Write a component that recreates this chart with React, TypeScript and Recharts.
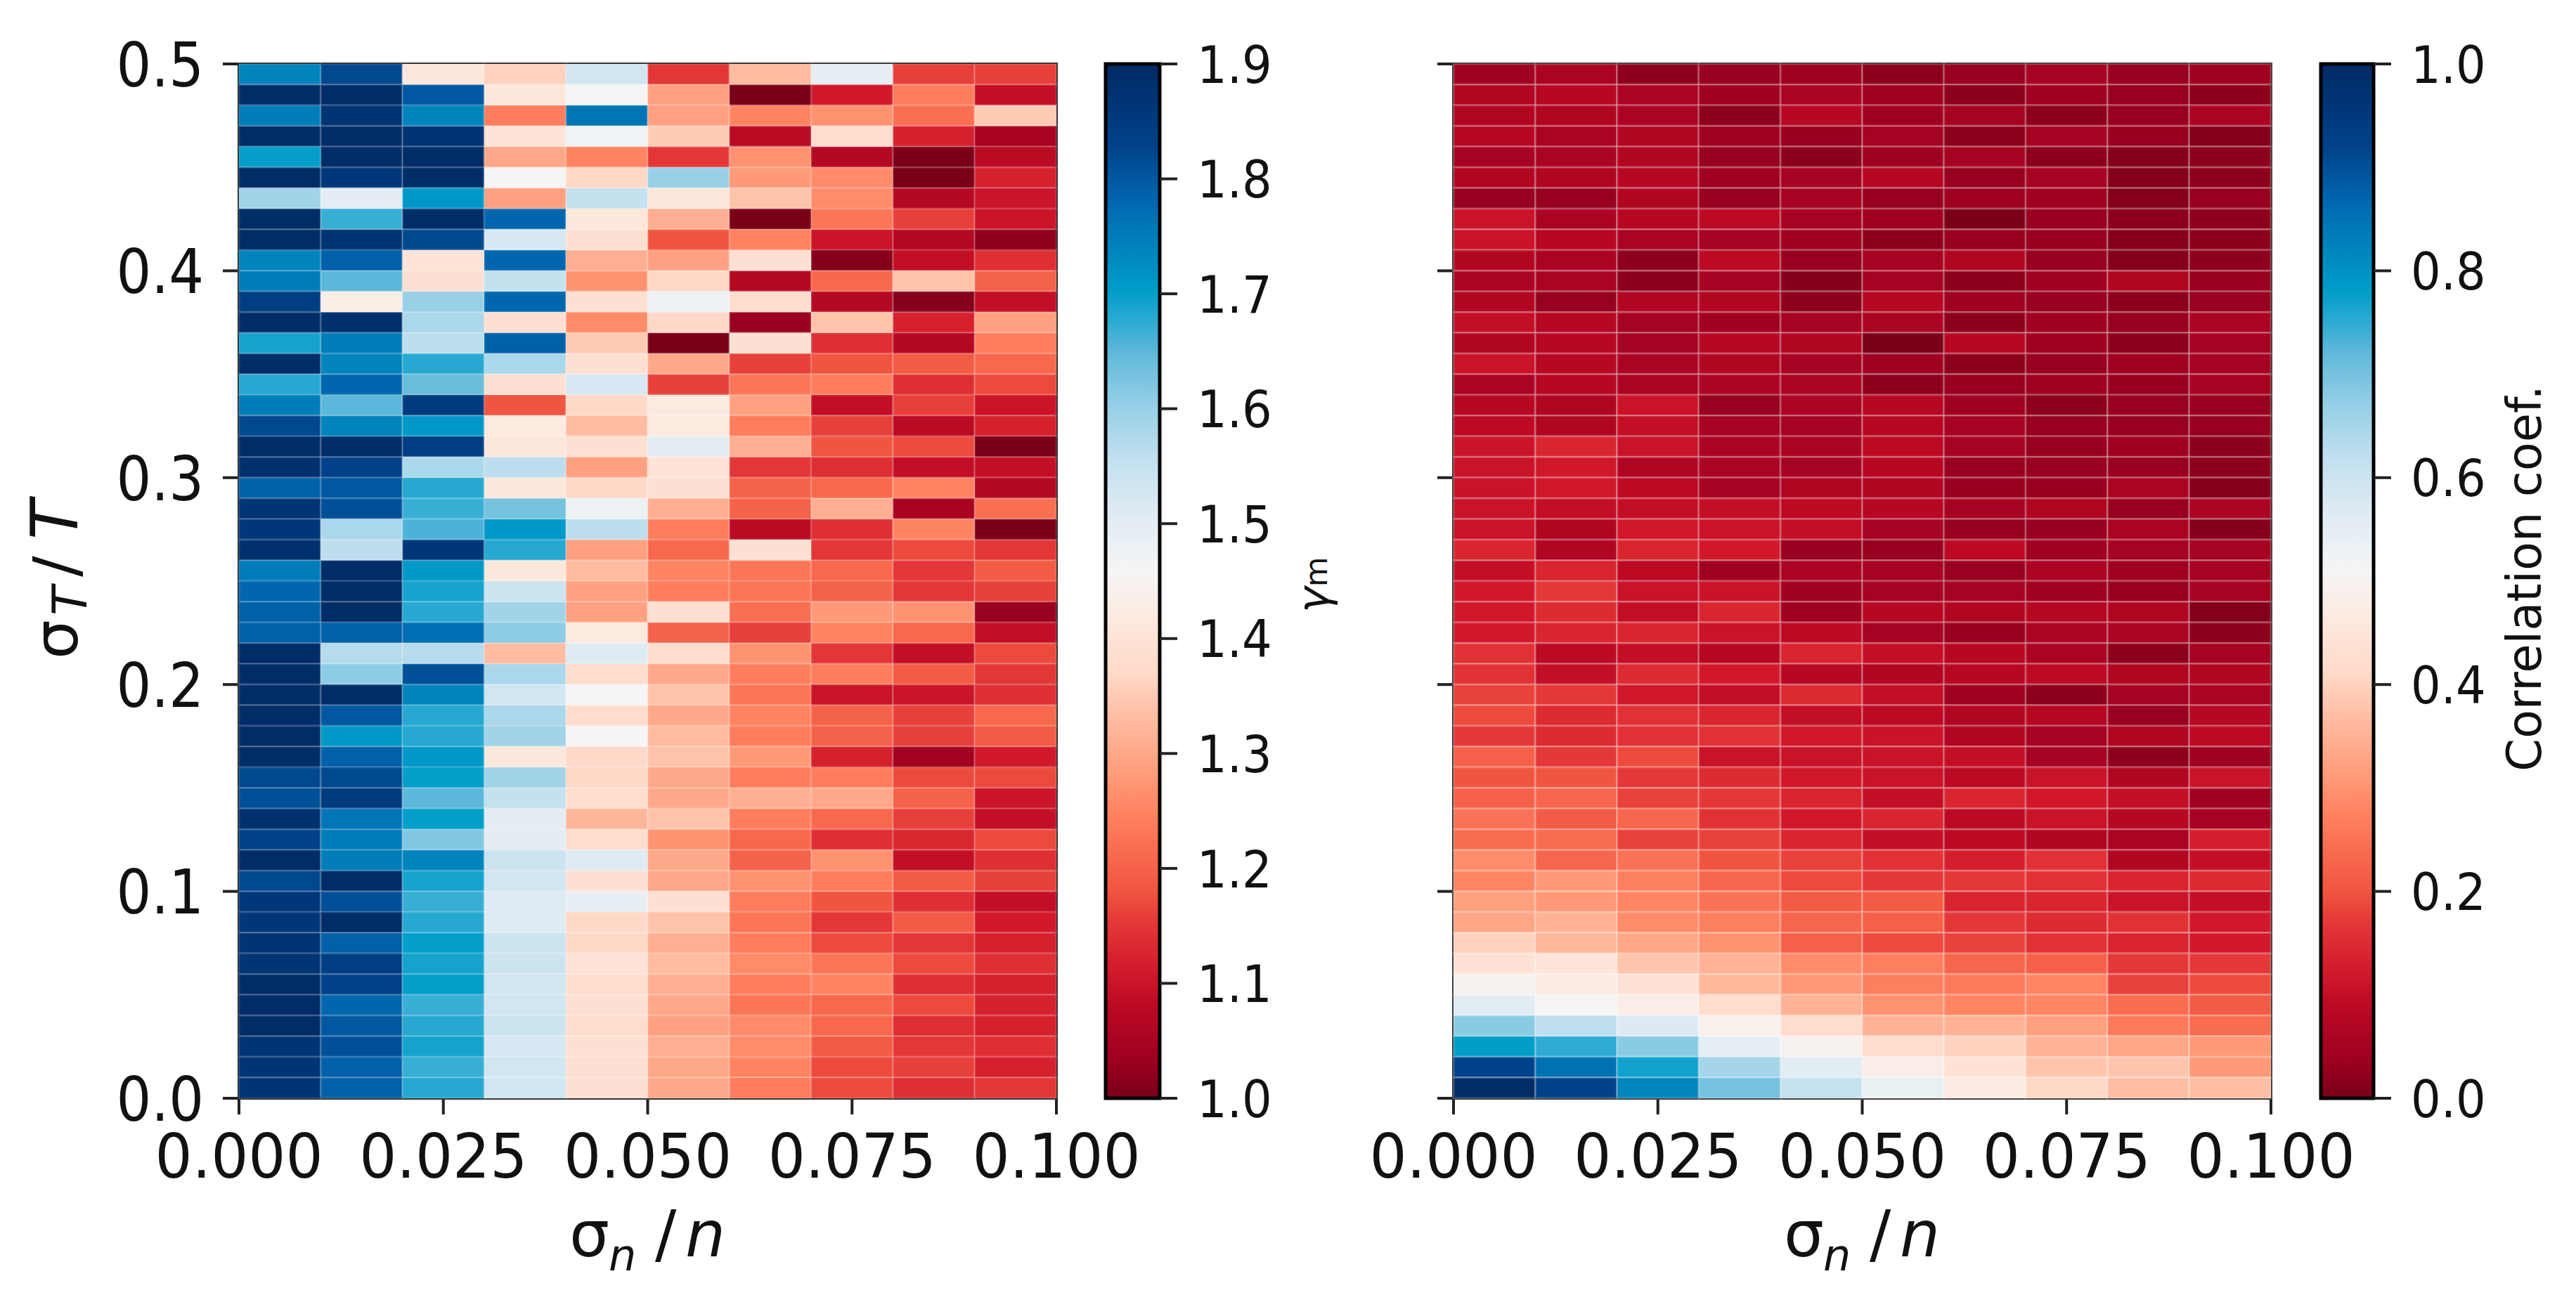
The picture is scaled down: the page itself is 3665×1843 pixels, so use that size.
import { Bar, BarChart, ReferenceArea, Scatter, ScatterChart, XAxis, YAxis } from "recharts";

const FONT = "'DejaVu Sans', sans-serif";
const INK = "#111";

// cell centres
const sigmaN = [0.005, 0.015, 0.025, 0.035, 0.045, 0.055, 0.065, 0.075, 0.085, 0.095];
const sigmaT = [
  0.495, 0.485, 0.475, 0.465, 0.455, 0.445, 0.435, 0.425, 0.415, 0.405,
  0.395, 0.385, 0.375, 0.365, 0.355, 0.345, 0.335, 0.325, 0.315, 0.305,
  0.295, 0.285, 0.275, 0.265, 0.255, 0.245, 0.235, 0.225, 0.215, 0.205,
  0.195, 0.185, 0.175, 0.165, 0.155, 0.145, 0.135, 0.125, 0.115, 0.105,
  0.095, 0.085, 0.075, 0.065, 0.055, 0.045, 0.035, 0.025, 0.015, 0.005,
];

const xTicks = [0, 0.025, 0.05, 0.075, 0.1];
const yTicks = [0, 0.1, 0.2, 0.3, 0.4, 0.5];
const gammaTicks = [1.0, 1.1, 1.2, 1.3, 1.4, 1.5, 1.6, 1.7, 1.8, 1.9];
const corrTicks = [0, 0.2, 0.4, 0.6, 0.8, 1.0];

// top row first
const gammaRows = [
  [1.74, 1.82, 1.41, 1.36, 1.53, 1.15, 1.33, 1.49, 1.16, 1.16],
  [1.89, 1.89, 1.80, 1.41, 1.46, 1.29, 1.00, 1.11, 1.24, 1.09],
  [1.75, 1.87, 1.74, 1.24, 1.76, 1.29, 1.25, 1.27, 1.22, 1.35],
  [1.89, 1.89, 1.87, 1.40, 1.47, 1.35, 1.08, 1.38, 1.12, 1.05],
  [1.70, 1.89, 1.89, 1.30, 1.25, 1.15, 1.27, 1.07, 1.00, 1.08],
  [1.89, 1.86, 1.89, 1.46, 1.37, 1.60, 1.28, 1.26, 1.00, 1.12],
  [1.59, 1.50, 1.71, 1.29, 1.55, 1.41, 1.34, 1.26, 1.07, 1.10],
  [1.89, 1.67, 1.89, 1.78, 1.41, 1.31, 1.00, 1.23, 1.16, 1.10],
  [1.89, 1.87, 1.82, 1.52, 1.39, 1.18, 1.25, 1.10, 1.07, 1.02],
  [1.74, 1.79, 1.40, 1.78, 1.31, 1.29, 1.39, 1.01, 1.09, 1.14],
  [1.75, 1.65, 1.39, 1.55, 1.27, 1.37, 1.07, 1.21, 1.34, 1.20],
  [1.84, 1.43, 1.60, 1.78, 1.39, 1.48, 1.38, 1.07, 1.01, 1.09],
  [1.89, 1.88, 1.58, 1.39, 1.26, 1.37, 1.03, 1.34, 1.12, 1.29],
  [1.69, 1.75, 1.56, 1.79, 1.35, 1.00, 1.39, 1.14, 1.07, 1.24],
  [1.89, 1.74, 1.68, 1.58, 1.39, 1.30, 1.16, 1.18, 1.19, 1.21],
  [1.68, 1.78, 1.64, 1.39, 1.52, 1.16, 1.23, 1.24, 1.14, 1.17],
  [1.75, 1.65, 1.85, 1.18, 1.37, 1.42, 1.29, 1.09, 1.16, 1.10],
  [1.82, 1.74, 1.71, 1.42, 1.33, 1.42, 1.24, 1.16, 1.08, 1.12],
  [1.89, 1.89, 1.84, 1.41, 1.39, 1.50, 1.31, 1.18, 1.17, 1.00],
  [1.88, 1.83, 1.58, 1.56, 1.29, 1.40, 1.15, 1.14, 1.09, 1.09],
  [1.79, 1.80, 1.68, 1.41, 1.37, 1.39, 1.20, 1.21, 1.25, 1.07],
  [1.87, 1.81, 1.67, 1.63, 1.48, 1.31, 1.20, 1.31, 1.05, 1.22],
  [1.86, 1.58, 1.66, 1.71, 1.56, 1.24, 1.08, 1.14, 1.25, 1.00],
  [1.88, 1.56, 1.86, 1.68, 1.29, 1.21, 1.39, 1.15, 1.17, 1.15],
  [1.75, 1.89, 1.71, 1.41, 1.33, 1.25, 1.23, 1.21, 1.15, 1.19],
  [1.78, 1.89, 1.69, 1.54, 1.29, 1.24, 1.23, 1.20, 1.15, 1.16],
  [1.79, 1.89, 1.68, 1.59, 1.29, 1.39, 1.22, 1.28, 1.27, 1.03],
  [1.79, 1.79, 1.77, 1.61, 1.42, 1.20, 1.16, 1.25, 1.21, 1.09],
  [1.89, 1.57, 1.57, 1.33, 1.51, 1.38, 1.27, 1.15, 1.09, 1.17],
  [1.89, 1.61, 1.81, 1.58, 1.38, 1.30, 1.24, 1.24, 1.19, 1.15],
  [1.89, 1.89, 1.74, 1.53, 1.46, 1.34, 1.23, 1.10, 1.10, 1.14],
  [1.89, 1.80, 1.68, 1.58, 1.38, 1.30, 1.25, 1.20, 1.16, 1.21],
  [1.89, 1.71, 1.68, 1.59, 1.46, 1.33, 1.24, 1.20, 1.16, 1.19],
  [1.89, 1.79, 1.71, 1.41, 1.37, 1.34, 1.28, 1.12, 1.04, 1.11],
  [1.82, 1.82, 1.70, 1.59, 1.37, 1.30, 1.24, 1.24, 1.17, 1.17],
  [1.81, 1.85, 1.65, 1.55, 1.38, 1.30, 1.31, 1.30, 1.20, 1.10],
  [1.88, 1.76, 1.70, 1.50, 1.32, 1.34, 1.24, 1.21, 1.16, 1.09],
  [1.83, 1.75, 1.62, 1.50, 1.38, 1.27, 1.21, 1.14, 1.13, 1.17],
  [1.89, 1.75, 1.74, 1.54, 1.51, 1.30, 1.20, 1.27, 1.09, 1.14],
  [1.82, 1.89, 1.69, 1.53, 1.39, 1.30, 1.27, 1.24, 1.19, 1.16],
  [1.86, 1.81, 1.67, 1.51, 1.49, 1.39, 1.24, 1.18, 1.14, 1.09],
  [1.86, 1.89, 1.68, 1.51, 1.37, 1.34, 1.23, 1.15, 1.19, 1.11],
  [1.87, 1.79, 1.70, 1.54, 1.37, 1.31, 1.24, 1.17, 1.15, 1.12],
  [1.87, 1.84, 1.69, 1.54, 1.40, 1.33, 1.26, 1.23, 1.17, 1.14],
  [1.89, 1.83, 1.70, 1.53, 1.38, 1.31, 1.24, 1.25, 1.14, 1.12],
  [1.89, 1.78, 1.67, 1.53, 1.39, 1.30, 1.23, 1.21, 1.17, 1.12],
  [1.89, 1.80, 1.68, 1.54, 1.38, 1.29, 1.26, 1.21, 1.14, 1.12],
  [1.87, 1.81, 1.69, 1.52, 1.39, 1.31, 1.26, 1.19, 1.15, 1.14],
  [1.87, 1.79, 1.67, 1.53, 1.39, 1.30, 1.25, 1.17, 1.16, 1.12],
  [1.87, 1.79, 1.68, 1.53, 1.39, 1.30, 1.24, 1.17, 1.14, 1.15],
];

const corrRows = [
  [0.04, 0.06, 0.02, 0.03, 0.04, 0.02, 0.03, 0.05, 0.03, 0.04],
  [0.07, 0.08, 0.06, 0.04, 0.06, 0.04, 0.02, 0.04, 0.03, 0.02],
  [0.07, 0.07, 0.06, 0.02, 0.08, 0.04, 0.05, 0.02, 0.03, 0.06],
  [0.08, 0.06, 0.07, 0.04, 0.03, 0.05, 0.02, 0.05, 0.03, 0.01],
  [0.05, 0.06, 0.07, 0.03, 0.02, 0.04, 0.05, 0.02, 0.01, 0.02],
  [0.07, 0.07, 0.08, 0.04, 0.05, 0.08, 0.03, 0.05, 0.01, 0.02],
  [0.03, 0.03, 0.07, 0.03, 0.05, 0.03, 0.04, 0.04, 0.01, 0.03],
  [0.11, 0.06, 0.08, 0.09, 0.05, 0.04, 0.00, 0.03, 0.02, 0.02],
  [0.11, 0.08, 0.06, 0.05, 0.04, 0.02, 0.03, 0.03, 0.01, 0.02],
  [0.07, 0.06, 0.02, 0.09, 0.03, 0.05, 0.07, 0.03, 0.01, 0.02],
  [0.06, 0.06, 0.02, 0.05, 0.01, 0.05, 0.02, 0.04, 0.07, 0.03],
  [0.07, 0.03, 0.07, 0.07, 0.02, 0.08, 0.04, 0.03, 0.02, 0.03],
  [0.10, 0.08, 0.05, 0.04, 0.05, 0.06, 0.02, 0.04, 0.03, 0.06],
  [0.07, 0.08, 0.05, 0.08, 0.07, 0.00, 0.08, 0.04, 0.02, 0.05],
  [0.11, 0.08, 0.06, 0.07, 0.05, 0.04, 0.02, 0.03, 0.04, 0.05],
  [0.06, 0.08, 0.06, 0.06, 0.06, 0.02, 0.03, 0.04, 0.03, 0.05],
  [0.08, 0.07, 0.11, 0.03, 0.06, 0.08, 0.04, 0.02, 0.03, 0.03],
  [0.09, 0.07, 0.10, 0.05, 0.05, 0.08, 0.05, 0.03, 0.03, 0.03],
  [0.11, 0.14, 0.11, 0.06, 0.06, 0.09, 0.05, 0.03, 0.04, 0.02],
  [0.11, 0.12, 0.07, 0.06, 0.05, 0.08, 0.03, 0.03, 0.03, 0.02],
  [0.11, 0.12, 0.09, 0.05, 0.07, 0.07, 0.03, 0.03, 0.06, 0.01],
  [0.11, 0.10, 0.10, 0.10, 0.09, 0.08, 0.05, 0.07, 0.03, 0.06],
  [0.11, 0.07, 0.12, 0.11, 0.10, 0.05, 0.03, 0.03, 0.06, 0.01],
  [0.14, 0.07, 0.14, 0.12, 0.03, 0.03, 0.09, 0.04, 0.05, 0.05],
  [0.10, 0.14, 0.09, 0.04, 0.06, 0.05, 0.03, 0.06, 0.04, 0.05],
  [0.12, 0.17, 0.11, 0.11, 0.04, 0.05, 0.05, 0.04, 0.03, 0.05],
  [0.12, 0.15, 0.10, 0.14, 0.04, 0.08, 0.07, 0.08, 0.07, 0.01],
  [0.12, 0.14, 0.14, 0.11, 0.09, 0.05, 0.03, 0.06, 0.06, 0.02],
  [0.16, 0.09, 0.10, 0.08, 0.14, 0.10, 0.08, 0.06, 0.02, 0.05],
  [0.16, 0.10, 0.15, 0.12, 0.08, 0.07, 0.08, 0.09, 0.07, 0.07],
  [0.18, 0.17, 0.12, 0.10, 0.15, 0.10, 0.04, 0.02, 0.05, 0.06],
  [0.19, 0.15, 0.16, 0.14, 0.10, 0.09, 0.07, 0.08, 0.03, 0.08],
  [0.17, 0.15, 0.16, 0.16, 0.12, 0.11, 0.07, 0.05, 0.07, 0.09],
  [0.22, 0.17, 0.19, 0.11, 0.11, 0.11, 0.10, 0.05, 0.02, 0.04],
  [0.20, 0.20, 0.17, 0.15, 0.12, 0.11, 0.09, 0.11, 0.07, 0.11],
  [0.22, 0.23, 0.18, 0.17, 0.14, 0.10, 0.14, 0.12, 0.10, 0.04],
  [0.25, 0.21, 0.23, 0.16, 0.12, 0.14, 0.09, 0.11, 0.08, 0.05],
  [0.24, 0.24, 0.18, 0.18, 0.14, 0.10, 0.09, 0.07, 0.06, 0.13],
  [0.29, 0.23, 0.25, 0.20, 0.18, 0.16, 0.13, 0.16, 0.07, 0.10],
  [0.28, 0.31, 0.27, 0.23, 0.19, 0.17, 0.17, 0.16, 0.14, 0.15],
  [0.32, 0.31, 0.28, 0.25, 0.21, 0.21, 0.14, 0.14, 0.11, 0.10],
  [0.33, 0.35, 0.29, 0.27, 0.23, 0.22, 0.17, 0.15, 0.16, 0.12],
  [0.40, 0.36, 0.33, 0.30, 0.22, 0.19, 0.18, 0.16, 0.14, 0.12],
  [0.44, 0.45, 0.38, 0.35, 0.29, 0.27, 0.23, 0.22, 0.17, 0.17],
  [0.50, 0.47, 0.44, 0.36, 0.31, 0.27, 0.26, 0.28, 0.18, 0.19],
  [0.56, 0.51, 0.48, 0.42, 0.35, 0.30, 0.28, 0.28, 0.24, 0.21],
  [0.68, 0.62, 0.57, 0.49, 0.42, 0.35, 0.35, 0.32, 0.26, 0.24],
  [0.78, 0.75, 0.68, 0.55, 0.50, 0.42, 0.40, 0.35, 0.33, 0.31],
  [0.92, 0.85, 0.77, 0.65, 0.56, 0.48, 0.44, 0.38, 0.38, 0.31],
  [0.99, 0.92, 0.82, 0.70, 0.61, 0.54, 0.47, 0.41, 0.37, 0.37],
];

// colormap, fractions of the range
const cmapStops = [0, 0.04, 0.09, 0.12, 0.17, 0.2, 0.24, 0.28, 0.32, 0.37, 0.41, 0.46, 0.51, 0.57, 0.62, 0.67, 0.72, 0.75, 0.78, 0.82, 0.87, 0.92, 1];
const cmapColors = ["#7a0018", "#a00020", "#bc0a24", "#d0182a", "#e43838", "#f05540", "#f86c50", "#ff8563", "#ffa07f", "#ffbea3", "#ffd9c8", "#fde8dd", "#f5f5f5", "#ddeaf3", "#c0dfee", "#95cfe6", "#60b9db", "#2fabd2", "#009dc9", "#0085bd", "#0065ae", "#00428a", "#002a63"];

const hexToRgb = (hex: string) => [1, 3, 5].map((i) => parseInt(hex.slice(i, i + 2), 16));

function colorAt(f: number) {
  const t = Math.min(1, Math.max(0, f));
  let i = 0;
  while (i < cmapStops.length - 2 && t > cmapStops[i + 1]) i++;
  const k = (t - cmapStops[i]) / (cmapStops[i + 1] - cmapStops[i]);
  const a = hexToRgb(cmapColors[i]);
  const b = hexToRgb(cmapColors[i + 1]);
  return `rgb(${a.map((c, n) => Math.round(c + (b[n] - c) * k)).join(",")})`;
}

const CANVAS_H = 1843;
const PLOT_TOP = 91;
const PLOT_BOTTOM = 280;
const PLOT_H = CANVAS_H - PLOT_TOP - PLOT_BOTTOM;
const PLOT_W = 1163;

function AxisLabel({ x, y, payload, kind, digits, size = 87, squeeze = 0.96 }: any) {
  const text = Number(payload.value).toFixed(digits);
  const anchor = kind === "x" ? "middle" : kind === "y" ? "end" : "start";
  const baseline = kind === "x" ? y + size * 0.729 : y + size * 0.365;
  return (
    <text
      transform={`translate(${x},${baseline}) scale(${squeeze},1)`}
      textAnchor={anchor}
      fontFamily={FONT}
      fontSize={size}
      fill={INK}
    >
      {text}
    </text>
  );
}

function XTitle({ x }: { x: number }) {
  const y = 1788;
  return (
    <text fontFamily={FONT} fill={INK} y={y}>
      <tspan x={x} y={y} fontSize={90}>σ</tspan>
      <tspan x={x + 56} y={y + 20} fontSize={62} fontStyle="italic">n</tspan>
      <tspan x={x + 122} y={y} fontSize={90}>/</tspan>
      <tspan x={x + 165} y={y} fontSize={90} fontStyle="italic">n</tspan>
    </text>
  );
}

function YTitle() {
  return (
    <text transform="translate(110,938) rotate(-90)" fontFamily={FONT} fill={INK}>
      <tspan x={0} y={0} fontSize={88}>σ</tspan>
      <tspan x={62} y={13} fontSize={68} fontStyle="italic">T</tspan>
      <tspan x={117} y={0} fontSize={88}>/</tspan>
      <tspan x={170} y={0} fontSize={92} fontStyle="italic">T</tspan>
    </text>
  );
}

function HeatPanel({ left, width, rows, lo, hi, showY, yWidth, edge }: any) {
  const data = rows.flatMap((row: number[], r: number) =>
    row.map((v, c) => ({ x: sigmaN[c], y: sigmaT[r], f: (v - lo) / (hi - lo) })),
  );
  const cellW = PLOT_W / sigmaN.length;
  const cellH = PLOT_H / sigmaT.length;

  return (
    <div style={{ position: "absolute", left, top: 0 }}>
      <ScatterChart width={width} height={CANVAS_H} margin={{ top: PLOT_TOP, right: width - yWidth - PLOT_W, bottom: 0, left: 0 }}>
        <XAxis
          type="number"
          dataKey="x"
          domain={[0, 0.1]}
          ticks={xTicks}
          interval={0}
          height={PLOT_BOTTOM}
          axisLine={false}
          tickSize={23}
          tickMargin={27}
          tickLine={{ stroke: "#222", strokeWidth: 4 }}
          tick={(p: any) => <AxisLabel {...p} kind="x" digits={3} />}
        />
        <YAxis
          type="number"
          dataKey="y"
          domain={[0, 0.5]}
          ticks={yTicks}
          interval={0}
          width={yWidth}
          axisLine={false}
          tickSize={23}
          tickMargin={27}
          tickLine={{ stroke: "#222", strokeWidth: 4 }}
          tick={showY ? (p: any) => <AxisLabel {...p} kind="y" digits={1} squeeze={0.9} /> : () => <g />}
        />
        <Scatter
          data={data}
          isAnimationActive={false}
          shape={(p: any) => (
            <rect
              x={p.cx - cellW / 2}
              y={p.cy - cellH / 2}
              width={cellW}
              height={cellH}
              fill={colorAt(p.payload.f)}
              stroke="#fff"
              strokeOpacity={edge}
              strokeWidth={3}
            />
          )}
        />
        <ReferenceArea x1={0} x2={0.1} y1={0} y2={0.5} fill="none" stroke="#222" strokeWidth={4} ifOverflow="visible" />
        {showY ? <YTitle /> : null}
        <XTitle x={yWidth + 470} />
      </ScatterChart>
    </div>
  );
}

function ColorBar({ id, left, width, barLeft, barW, domain, ticks, children }: any) {
  const range = [{ name: "bar", span: domain }];
  return (
    <div style={{ position: "absolute", left, top: 0 }}>
      <BarChart
        width={width}
        height={CANVAS_H}
        data={range}
        barCategoryGap={0}
        margin={{ top: PLOT_TOP, right: 0, bottom: PLOT_BOTTOM, left: barLeft }}
      >
        <defs>
          <linearGradient id={id} x1="0" y1="0" x2="0" y2="1">
            {cmapStops.map((s, i) => (
              <stop key={s} offset={1 - s} stopColor={cmapColors[i]} />
            )).reverse()}
          </linearGradient>
        </defs>
        <XAxis dataKey="name" hide />
        <YAxis
          orientation="right"
          type="number"
          domain={domain}
          ticks={ticks}
          interval={0}
          width={width - barLeft - barW}
          axisLine={false}
          tickSize={25}
          tickMargin={28}
          tickLine={{ stroke: "#222", strokeWidth: 4 }}
          tick={(p: any) => <AxisLabel {...p} kind="bar" digits={1} size={73} squeeze={0.92} />}
        />
        <Bar dataKey="span" fill={`url(#${id})`} stroke="#000" strokeWidth={5} isAnimationActive={false} />
        {children}
      </BarChart>
    </div>
  );
}

export default function App() {
  return (
    <div style={{ position: "absolute", left: 0, top: 0, width: 3665, height: CANVAS_H, background: "#fff", overflow: "hidden" }}>
      <HeatPanel left={0} width={1650} rows={gammaRows} lo={1} hi={1.9} showY yWidth={340} edge={0.12} />
      <ColorBar id="gammaBar" left={1540} width={420} barLeft={33} barW={77} domain={[1, 1.9]} ticks={gammaTicks}>
        <text transform="translate(350,872) rotate(-90)" fontFamily={FONT} fill={INK}>
          <tspan fontSize={62} fontStyle="italic">γ</tspan>
          <tspan fontSize={44} dy={-2}>m</tspan>
        </text>
      </ColorBar>
      <HeatPanel left={1880} width={1510} rows={corrRows} lo={0} hi={1} showY={false} yWidth={188} edge={0.2} />
      <ColorBar id="corrBar" left={3270} width={395} barLeft={32} barW={75} domain={[0, 1]} ticks={corrTicks}>
        <text transform="translate(345,823) rotate(-90)" textAnchor="middle" fontFamily={FONT} fontSize={67} fill={INK}>
          Correlation coef.
        </text>
      </ColorBar>
    </div>
  );
}
